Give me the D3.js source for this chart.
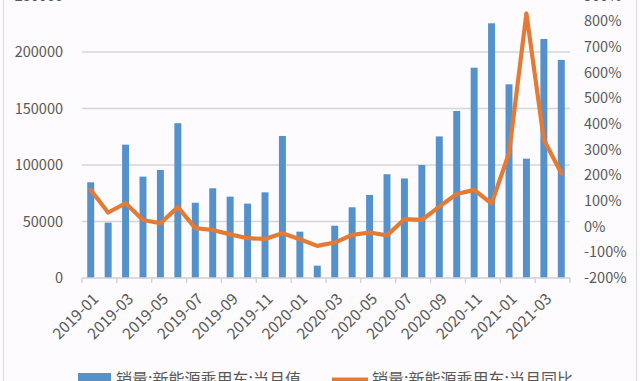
<!DOCTYPE html>
<html>
<head>
<meta charset="utf-8">
<script src="https://cdn.jsdelivr.net/npm/d3@7"></script>
<style>
html,body{margin:0;padding:0;background:#fdfbfd;overflow:hidden;}
svg{display:block;}
text{font-family:"Noto Sans CJK SC","Noto Sans",sans-serif;fill:#595959;}
</style>
</head>
<body>
<svg id="chart" width="640" height="381"></svg>
<script>
const months = ["2019-01","2019-02","2019-03","2019-04","2019-05","2019-06","2019-07","2019-08","2019-09","2019-10","2019-11","2019-12",
"2020-01","2020-02","2020-03","2020-04","2020-05","2020-06","2020-07","2020-08","2020-09","2020-10","2020-11","2020-12",
"2021-01","2021-02","2021-03","2021-04"];
const salesValue = [84700,49000,118000,89700,95600,137000,66600,79400,72000,65800,75800,125700,
41000,10900,46300,62600,73500,91800,88100,100000,125300,147800,186100,225400,
171400,105600,211500,193000];
const salesYoY = [143,55,91,26,13,76,-6,-13,-30,-45,-48,-26,
-49,-75,-62,-32,-23,-34,29,26,78,127,143,90,
286,830,338,208];
const leftTicks = [0,50000,100000,150000,200000,250000];
const rightTicks = [-200,-100,0,100,200,300,400,500,600,700,800,900];
const seriesNames = ["销量:新能源乘用车:当月值","销量:新能源乘用车:当月同比"];

const svg = d3.select("#chart");
const plot = {left:82, right:570, top:-4.5, bottom:278};
const blue = "#5592cc", orange = "#e57a35";

// frame
svg.append("rect").attr("x",3.5).attr("y",-10).attr("width",633).attr("height",420)
  .attr("fill","#fdfbfd").attr("stroke","#d9d9d9");

const x = d3.scaleBand().domain(months).range([plot.left,plot.right]).paddingInner(0.6).paddingOuter(0.3);
const yL = d3.scaleLinear().domain([0,250000]).range([plot.bottom,plot.top]);
const yR = d3.scaleLinear().domain([-200,900]).range([plot.bottom,plot.top]);

// gridlines
svg.append("g").selectAll("line").data(leftTicks.filter(d=>d>0)).join("line")
  .attr("x1",plot.left).attr("x2",plot.right)
  .attr("y1",d=>yL(d)).attr("y2",d=>yL(d))
  .attr("stroke","#d6d6d6").attr("stroke-width",1.3);

// left axis
const axL = svg.append("g").attr("transform",`translate(${plot.left},0)`)
  .call(d3.axisLeft(yL).tickValues(leftTicks).tickSize(0).tickPadding(19).tickFormat(d3.format("d")));
axL.select(".domain").remove();
axL.selectAll("text").attr("font-size","14.5px").attr("fill","#595959").style("font-family",'"Noto Sans CJK SC",sans-serif');

// right axis
const axR = svg.append("g").attr("transform",`translate(${plot.right},0)`)
  .call(d3.axisRight(yR).tickValues(rightTicks).tickSize(0).tickPadding(14).tickFormat(d=>d+"%"));
axR.select(".domain").remove();
axR.selectAll("text").attr("font-size","14.5px").attr("fill","#595959").style("font-family",'"Noto Sans CJK SC",sans-serif');

// bars
svg.append("g").selectAll("rect").data(months).join("rect")
  .attr("x",(d)=>x(d)).attr("width",x.bandwidth())
  .attr("y",(d,i)=>yL(salesValue[i])).attr("height",(d,i)=>yL(0)-yL(salesValue[i]))
  .attr("fill",blue);

// x axis
const xTickMonths = months.filter((d,i)=>i%2===0);
const gx = svg.append("g").attr("transform",`translate(0,${plot.bottom})`);
gx.append("line").attr("x1",plot.left).attr("x2",plot.right).attr("stroke","#d0d0d0").attr("stroke-width",1.3);
const step = x.step();
const boundaries = d3.range(0, months.length+1, 2).map(k=>plot.left + k*step);
gx.selectAll("line.tk").data(boundaries).join("line").attr("class","tk")
  .attr("x1",d=>d).attr("x2",d=>d).attr("y1",0).attr("y2",5).attr("stroke","#d0d0d0").attr("stroke-width",1.3);
gx.selectAll("text").data(xTickMonths).join("text")
  .attr("transform",d=>`translate(${x(d)+x.bandwidth()/2+5},${18}) rotate(-45)`)
  .attr("text-anchor","end").attr("font-size","15.5px").attr("dy","0.35em")
  .text(d=>d);

// line
const line = d3.line().x((d,i)=>x(months[i])+x.bandwidth()/2).y(d=>yR(d));
svg.append("path").datum(salesYoY).attr("d",line)
  .attr("fill","none").attr("stroke",orange).attr("stroke-width",4.2)
  .attr("stroke-linejoin","round").attr("stroke-linecap","round");

// legend
const lg = svg.append("g");
lg.append("rect").attr("x",78).attr("y",373).attr("width",33).attr("height",11).attr("fill",blue);
lg.append("text").attr("x",116).attr("y",385).attr("font-size","16px").attr("fill","#595959").text(seriesNames[0]);
lg.append("line").attr("x1",332).attr("x2",368).attr("y1",380).attr("y2",380).attr("stroke",orange).attr("stroke-width",5);
lg.append("text").attr("x",372).attr("y",385).attr("font-size","16px").attr("fill","#595959").text(seriesNames[1]);
</script>
</body>
</html>
